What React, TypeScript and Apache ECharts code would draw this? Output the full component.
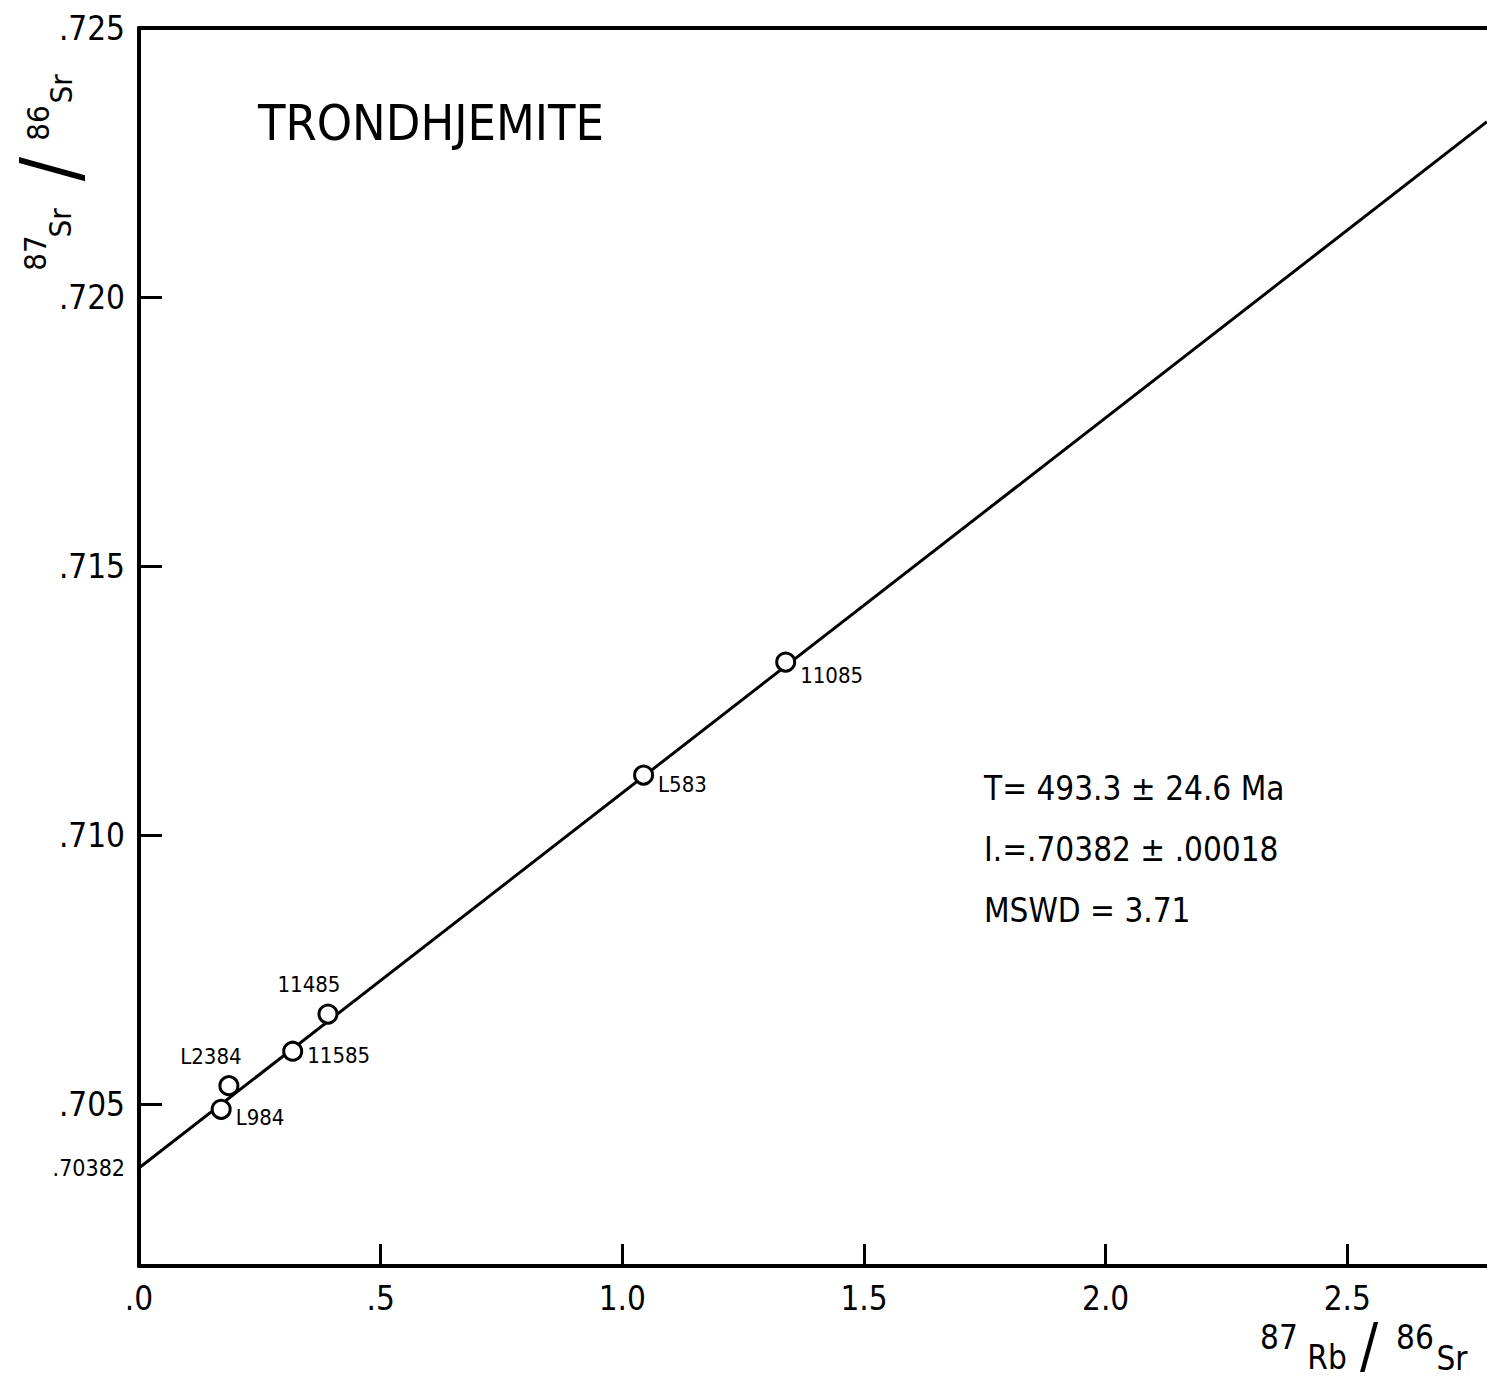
import React, { useEffect, useRef } from "react";
import * as echarts from "echarts";

// ---- data ----
const sampleNames = ["L984", "L2384", "11585", "11485", "L583", "11085"];
const rbSr = [0.17, 0.186, 0.318, 0.391, 1.044, 1.338];
const srSr = [0.70491, 0.70535, 0.70599, 0.70668, 0.71112, 0.71322];
const intercept = 0.70382;
const slope = 0.00697;
const xTicks = [0, 0.5, 1.0, 1.5, 2.0, 2.5];
const yTicks = [0.705, 0.71, 0.715, 0.72, 0.725];
const xRange = [0, 2.789];
const yRange = [0.702, 0.725];
const statLines = ["T= 493.3 ± 24.6 Ma", "I.=.70382 ± .00018", "MSWD = 3.71"];
const titleText = "TRONDHJEMITE";
const xTitleParts = ["87", "Rb", "/", "86", "Sr"];
const yTitleParts = ["87", "Sr", "/", "86", "Sr"];

const FONT = "'DejaVu Sans Condensed', 'Liberation Sans Narrow', 'DejaVu Sans', sans-serif";

const labelPlacement: Record<string, any> = {
  L984: { position: "right", distance: 4, offset: [0, 8] },
  L2384: { position: "top", distance: 8, offset: [-18, 0] },
  "11585": { position: "right", distance: 4, offset: [0, 4] },
  "11485": { position: "top", distance: 8, offset: [-19, 0] },
  L583: { position: "right", distance: 4, offset: [0, 9] },
  "11085": { position: "right", distance: 4, offset: [0, 13] },
};

// placement of the pieces of the axis titles (centre x, centre y, font size)
const xTitleLayout = [
  [1279, 1337, 33],
  [1327, 1357, 33],
  [1369, 1345, 60],
  [1415, 1337, 33],
  [1452, 1358, 33],
];
const yTitleLayout = [
  [35, 253, 31],
  [60, 223, 31],
  [50, 169, 80],
  [38, 123, 31],
  [61, 89, 31],
];

export default function App() {
  const ref = useRef<HTMLDivElement>(null);
  useEffect(() => {
    if (!ref.current) return;
    const chart = echarts.init(ref.current, null, { renderer: "svg" });
    const lineData = [
      [xRange[0], intercept + slope * xRange[0]],
      [xRange[1], intercept + slope * xRange[1]],
    ];
    const points = sampleNames.map((n, i) => ({
      name: n,
      value: [rbSr[i], srSr[i]],
      label: { show: true, formatter: n, ...labelPlacement[n] },
    }));
    const xTitle = xTitleParts.map((t, i) => ({
      type: "text",
      x: xTitleLayout[i][0],
      y: xTitleLayout[i][1],
      style: {
        text: t,
        align: "center",
        verticalAlign: "middle",
        fontFamily: FONT,
        fontSize: xTitleLayout[i][2],
        fill: "#000",
      },
    }));
    const yTitle = yTitleParts.map((t, i) => ({
      type: "text",
      x: yTitleLayout[i][0],
      y: yTitleLayout[i][1],
      rotation: Math.PI / 2,
      style: {
        text: t,
        align: "center",
        verticalAlign: "middle",
        fontFamily: FONT,
        fontSize: yTitleLayout[i][2],
        fill: "#000",
      },
    }));
    chart.setOption({
      animation: false,
      backgroundColor: "#ffffff",
      grid: { left: 139, right: 0, top: 28, bottom: 116, containLabel: false },
      xAxis: [
        {
          type: "value",
          min: xRange[0],
          max: xRange[1],
          position: "bottom",
          axisLine: { show: true, onZero: false, lineStyle: { color: "#000", width: 4 } },
          axisTick: {
            show: true,
            inside: true,
            length: 22,
            lineStyle: { color: "#000", width: 3 },
            customValues: xTicks.slice(1),
          },
          axisLabel: {
            show: true,
            margin: 16,
            color: "#000",
            fontFamily: FONT,
            fontSize: 33,
            customValues: xTicks,
            formatter: (v: number) => (v === 0 ? ".0" : v === 0.5 ? ".5" : v.toFixed(1)),
          },
          splitLine: { show: false },
        },
        {
          type: "value",
          min: xRange[0],
          max: xRange[1],
          position: "top",
          axisLine: { show: true, onZero: false, lineStyle: { color: "#000", width: 4 } },
          axisTick: { show: false },
          axisLabel: { show: false },
          splitLine: { show: false },
        },
      ],
      yAxis: {
        type: "value",
        min: yRange[0],
        max: yRange[1],
        axisLine: { show: true, onZero: false, lineStyle: { color: "#000", width: 4 } },
        axisTick: {
          show: true,
          inside: true,
          length: 23,
          lineStyle: { color: "#000", width: 3 },
          customValues: yTicks,
        },
        axisLabel: {
          show: true,
          margin: 14,
          color: "#000",
          fontFamily: FONT,
          fontSize: 33,
          customValues: [intercept, ...yTicks],
          formatter: (v: number) =>
            Math.abs(v - intercept) < 1e-7 ? "{s|.70382}" : "." + v.toFixed(3).slice(2),
          rich: { s: { fontSize: 23, fontFamily: FONT, color: "#000" } },
        },
        splitLine: { show: false },
      },
      series: [
        {
          type: "line",
          data: lineData,
          symbol: "none",
          lineStyle: { color: "#000", width: 3 },
          z: 2,
          silent: true,
        },
        {
          type: "scatter",
          data: points,
          symbol: "circle",
          symbolSize: 18,
          itemStyle: { color: "#fff", borderColor: "#000", borderWidth: 3, opacity: 1 },
          label: { color: "#000", fontFamily: FONT, fontSize: 22 },
          z: 3,
        },
      ],
      graphic: [
        {
          type: "text",
          left: 258,
          top: 98,
          style: { text: titleText, fontFamily: FONT, fontSize: 50, fill: "#000" },
        },
        ...statLines.map((t, i) => ({
          type: "text",
          left: 984,
          top: 772 + i * 61,
          style: { text: t, fontFamily: FONT, fontSize: 33, fill: "#000" },
        })),
        ...xTitle,
        ...yTitle,
      ],
    });
    return () => chart.dispose();
  }, []);
  return (
    <div
      ref={ref}
      style={{ position: "absolute", left: 0, top: 0, width: 1487, height: 1382, background: "#fff" }}
    />
  );
}
